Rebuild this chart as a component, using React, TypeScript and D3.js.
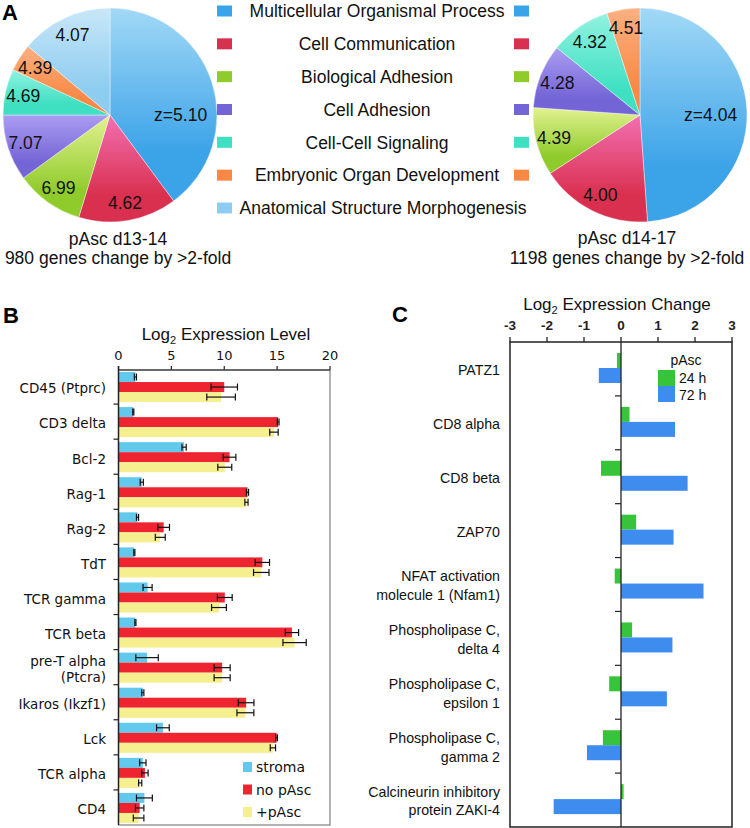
import React from 'react';
import * as d3 from 'd3';

// ---- Panel A data ----
const goTerms = [
  'Multicellular Organismal Process',
  'Cell Communication',
  'Biological Adhesion',
  'Cell Adhesion',
  'Cell-Cell Signaling',
  'Embryonic Organ Development',
  'Anatomical Structure Morphogenesis',
];
const goColors = ['#3ba3e8', '#d9304f', '#8fcb2b', '#7465d6', '#3fe0c2', '#f98845', '#8fcdf0'];
const goLight = ['#a2d9f6', '#f370b2', '#e2f290', '#ab9df2', '#92f2e1', '#fbb183', '#c8e7f8'];

// slice shares (degrees of the pie)
const pieLeftShares = [143.5, 53.5, 37, 36, 25, 15, 50];
const pieLeftLabels = ['z=5.10', '4.62', '6.99', '7.07', '4.69', '4.39', '4.07'];
const pieRightShares = [176, 61, 37, 35, 33, 18];
const pieRightLabels = ['z=4.04', '4.00', '4.39', '4.28', '4.32', '4.51'];

// ---- Panel B data ----
const bGenes = [
  'CD45 (Ptprc)', 'CD3 delta', 'Bcl-2', 'Rag-1', 'Rag-2', 'TdT', 'TCR gamma',
  'TCR beta', 'pre-T alpha\n(Ptcra)', 'Ikaros (Ikzf1)', 'Lck', 'TCR alpha', 'CD4',
];
const stroma = [1.6, 1.4, 6.2, 2.2, 1.8, 1.5, 2.75, 1.6, 2.7, 2.3, 4.2, 2.3, 2.45];
const stromaErr = [0.1, 0.05, 0.2, 0.15, 0.1, 0.05, 0.43, 0.05, 1.06, 0.1, 0.6, 0.3, 0.75];
const noPasc = [10.0, 15.1, 10.5, 12.2, 4.27, 13.6, 10.05, 16.4, 9.8, 12.07, 14.95, 2.5, 2.0];
const noPascErr = [1.25, 0.08, 0.6, 0.1, 0.55, 0.68, 0.7, 0.63, 0.76, 0.74, 0.08, 0.3, 0.4];
const plusPasc = [9.7, 14.7, 10.05, 12.1, 3.95, 13.5, 9.5, 16.65, 9.8, 12.0, 14.6, 2.05, 1.9];
const plusPascErr = [1.35, 0.4, 0.66, 0.15, 0.47, 0.73, 0.7, 1.1, 0.76, 0.8, 0.25, 0.15, 0.5];
const bSeries = ['stroma', 'no pAsc', '+pAsc'];
const bColors = ['#62c9ec', '#ef2431', '#f6ef8f'];
const bTicks = [0, 5, 10, 15, 20];

// ---- Panel C data ----
const cGenes = [
  'PATZ1', 'CD8 alpha', 'CD8 beta', 'ZAP70', 'NFAT activation\nmolecule 1 (Nfam1)',
  'Phospholipase C,\ndelta 4', 'Phospholipase C,\nepsilon 1', 'Phospholipase C,\ngamma 2',
  'Calcineurin inhibitory\nprotein  ZAKI-4',
];
const h24 = [-0.11, 0.23, -0.54, 0.41, -0.17, 0.3, -0.32, -0.49, 0.07];
const h72 = [-0.6, 1.46, 1.8, 1.42, 2.23, 1.39, 1.24, -0.92, -1.82];
const cSeries = ['24 h', '72 h'];
const cColors = ['#38c43a', '#3d8cee'];
const cTicks = [-3, -2, -1, 0, 1, 2, 3];

const ARIAL = '"Liberation Sans", Arial, sans-serif';
const VERDANA = '"DejaVu Sans", Verdana, sans-serif';

function Pie({ cx, cy, r, shares, labels, id }: any) {
  const arcs = d3.pie<number>().sort(null).value((d) => d)(shares);
  const arcGen = d3.arc<d3.PieArcDatum<number>>().innerRadius(0).outerRadius(r);
  return (
    <g>
      <defs>
        {shares.map((_: number, i: number) => (
          <linearGradient key={i} id={`${id}${i}`} x1="0" y1="0" x2="0" y2="1">
            <stop offset="0%" stopColor={goLight[i]} />
            <stop offset="75%" stopColor={goColors[i]} />
          </linearGradient>
        ))}
      </defs>
      <g transform={`translate(${cx},${cy})`}>
        {arcs.map((a, i) => (
          <path key={i} d={arcGen(a) || ''} fill={`url(#${id}${i})`} stroke="#fff" strokeWidth={0.4} />
        ))}
        {arcs.map((a, i) => {
          const ang = i === 0 ? Math.PI / 2 : (a.startAngle + a.endAngle) / 2;
          const rr = i === 0 ? r * 0.66 : r * 0.83;
          return (
            <text key={i} x={rr * Math.sin(ang)} y={-rr * Math.cos(ang)} dy="0.36em"
              textAnchor="middle" fontSize={17.5} fontFamily={ARIAL} fill="#111">
              {labels[i]}
            </text>
          );
        })}
      </g>
    </g>
  );
}

function PanelA() {
  const legendY = d3.scaleLinear().domain([0, 6]).range([11, 208]);
  return (
    <g>
      <Pie cx={110} cy={115} r={107} shares={pieLeftShares} labels={pieLeftLabels} id="gl" />
      <Pie cx={640} cy={115} r={107} shares={pieRightShares} labels={pieRightLabels} id="gr" />
      {goTerms.map((t, i) => (
        <g key={t}>
          <rect x={217} y={legendY(i) - 5.5} width={15} height={11} fill={goColors[i]} />
          {i < pieRightShares.length && (
            <rect x={514} y={legendY(i) - 5.5} width={15} height={11} fill={goColors[i]} />
          )}
          <text x={i === 6 ? 383 : 377} y={legendY(i)} dy="0.36em" textAnchor="middle"
            fontSize={17.5} fontFamily={ARIAL} fill="#111">{t}</text>
        </g>
      ))}
      <g fontFamily={ARIAL} fontSize={17.5} fill="#111" textAnchor="middle">
        <text x={118} y={245}>pAsc d13-14</text>
        <text x={118} y={264}>980 genes change by &gt;2-fold</text>
        <text x={627} y={244}>pAsc d14-17</text>
        <text x={627} y={264}>1198 genes change by &gt;2-fold</text>
      </g>
    </g>
  );
}

function PanelB() {
  const x = d3.scaleLinear().domain([0, 20]).range([118.5, 330]);
  const y = d3.scaleBand<string>().domain(bGenes).range([369, 825]);
  const sub = d3.scaleBand<string>().domain(bSeries).range([3, y.bandwidth() - 2]);
  const values = [stroma, noPasc, plusPasc];
  const errs = [stromaErr, noPascErr, plusPascErr];
  const top = 370;
  const bottom = 825;
  return (
    <g>
      <text x={226} y={340} textAnchor="middle" fontFamily={ARIAL} fontSize={17} fill="#111">
        Log<tspan fontSize={11} dy={4}>2</tspan><tspan dy={-4}> Expression Level</tspan>
      </text>
      {bTicks.map((t) => (
        <g key={t}>
          <line x1={x(t)} x2={x(t)} y1={top - 4} y2={top} stroke="#222" strokeWidth={1.2} />
          <text x={x(t)} y={360} textAnchor="middle" fontFamily={VERDANA} fontSize={13} fill="#111">{t}</text>
        </g>
      ))}
      {bGenes.map((g, gi) => (
        <g key={g}>
          {bSeries.map((s, si) => {
            const v = values[si][gi];
            const e = errs[si][gi];
            const by = (y(g) as number) + (sub(s) as number);
            const bh = sub.bandwidth();
            const cy = by + bh / 2;
            return (
              <g key={s}>
                <rect x={x(0)} y={by} width={x(v) - x(0)} height={bh} fill={bColors[si]} />
                <line x1={x(v - e)} x2={x(v + e)} y1={cy} y2={cy} stroke="#111" strokeWidth={1.2} />
                <line x1={x(v - e)} x2={x(v - e)} y1={cy - 3.5} y2={cy + 3.5} stroke="#111" strokeWidth={1.2} />
                <line x1={x(v + e)} x2={x(v + e)} y1={cy - 3.5} y2={cy + 3.5} stroke="#111" strokeWidth={1.2} />
              </g>
            );
          })}
          {gi > 0 && (
            <line x1={x(0) - 5} x2={x(0)} y1={y(g)} y2={y(g)} stroke="#222" strokeWidth={1.2} />
          )}
          {g.split('\n').map((line, li, arr) => (
            <text key={li} x={106} y={(y(g) as number) + y.bandwidth() / 2 + 2 + (li - (arr.length - 1) / 2) * 16}
              dy="0.36em" textAnchor="end" fontFamily={VERDANA} fontSize={13.5} fill="#111">{line}</text>
          ))}
        </g>
      ))}
      <rect x={x(0)} y={top} width={x(20) - x(0)} height={bottom - top} fill="none" stroke="#666" strokeWidth={1} />
      <line x1={x(0)} x2={x(0)} y1={top - 4} y2={bottom} stroke="#222" strokeWidth={1.5} />
      <line x1={x(0)} x2={x(20)} y1={top} y2={top} stroke="#222" strokeWidth={1.2} />
      {bSeries.map((s, i) => (
        <g key={s}>
          <rect x={243} y={762 + i * 22.5} width={9} height={10} fill={bColors[i]} />
          <text x={256} y={767 + i * 22.5} dy="0.36em" fontFamily={VERDANA} fontSize={14} fill="#111">{s}</text>
        </g>
      ))}
    </g>
  );
}

function PanelC() {
  const x = d3.scaleLinear().domain([-3, 3]).range([510, 732]);
  const y = d3.scaleBand<string>().domain(cGenes).range([342, 827]);
  const sub = d3.scaleBand<string>().domain(cSeries).range([11, 41]);
  const values = [h24, h72];
  const top = 342;
  const bottom = 827;
  return (
    <g>
      <text x={617} y={310} textAnchor="middle" fontFamily={ARIAL} fontSize={17} fill="#111">
        Log<tspan fontSize={11} dy={4}>2</tspan><tspan dy={-4}> Expression Change</tspan>
      </text>
      {cTicks.map((t) => (
        <g key={t}>
          <line x1={x(t)} x2={x(t)} y1={top - 5} y2={top} stroke="#222" strokeWidth={1.3} />
          <text x={x(t)} y={330} textAnchor="middle" fontFamily={ARIAL} fontWeight="bold" fontSize={13.5} fill="#222">{t}</text>
        </g>
      ))}
      {cGenes.map((g, gi) => (
        <g key={g}>
          {cSeries.map((s, si) => {
            const v = values[si][gi];
            return (
              <rect key={s} x={Math.min(x(0), x(v))} y={(y(g) as number) + (sub(s) as number)}
                width={Math.abs(x(v) - x(0))} height={sub.bandwidth()} fill={cColors[si]} />
            );
          })}
          {gi > 0 && (
            <line x1={x(0) - 6} x2={x(0)} y1={y(g)} y2={y(g)} stroke="#222" strokeWidth={1.2} />
          )}
          {g.split('\n').map((line, li, arr) => (
            <text key={li} x={500} y={(y(g) as number) + y.bandwidth() / 2 + 1 + (li - (arr.length - 1) / 2) * 18.5}
              dy="0.36em" textAnchor="end" fontFamily={ARIAL} fontSize={14.2} fill="#111">{line}</text>
          ))}
        </g>
      ))}
      <line x1={x(0)} x2={x(0)} y1={top} y2={bottom} stroke="#222" strokeWidth={1.3} />
      <rect x={x(-3)} y={top} width={x(3) - x(-3)} height={bottom - top} fill="none" stroke="#222" strokeWidth={1.5} />
      <text x={686} y={365} textAnchor="middle" fontFamily={ARIAL} fontSize={14} fill="#111">pAsc</text>
      {cSeries.map((s, i) => (
        <g key={s}>
          <rect x={658} y={370 + i * 16} width={17} height={16} fill={cColors[i]} />
          <text x={679} y={378 + i * 17} dy="0.36em" fontFamily={ARIAL} fontSize={14} fill="#111">{s}</text>
        </g>
      ))}
    </g>
  );
}

export default function App() {
  return (
    <svg width={750} height={828} viewBox="0 0 750 828"
      style={{ position: 'absolute', left: 0, top: 0, background: '#fff' }}>
      <rect width={750} height={828} fill="#fff" />
      <g fontFamily={ARIAL} fontWeight="bold" fontSize={22} fill="#000">
        <text x={2} y={20}>A</text>
        <text x={3} y={323}>B</text>
        <text x={392} y={322}>C</text>
      </g>
      <PanelA />
      <PanelB />
      <PanelC />
    </svg>
  );
}
